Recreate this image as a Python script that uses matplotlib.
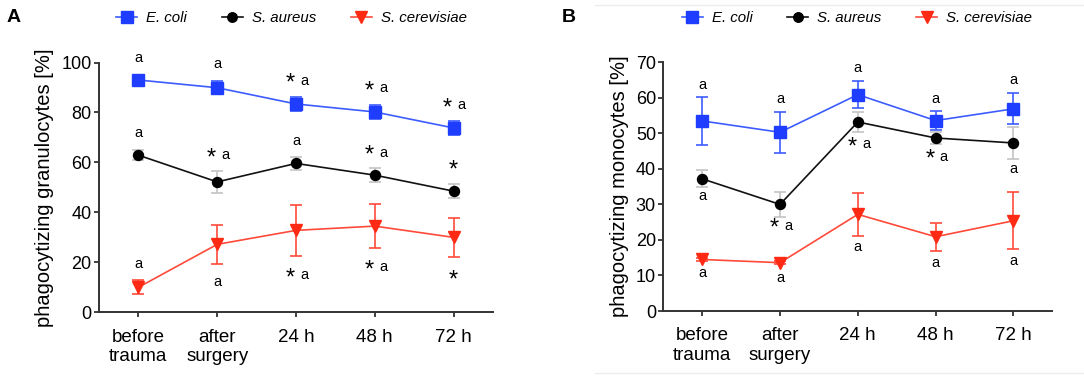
import matplotlib
matplotlib.use("Agg")
import matplotlib.pyplot as plt
from matplotlib.lines import Line2D
import numpy as np

plt.rcParams['font.family'] = ['Liberation Sans', 'DejaVu Sans']

categories = ["before\ntrauma", "after\nsurgery", "24 h", "48 h", "72 h"]
series_names = ["E. coli", "S. aureus", "S. cerevisiae"]

# Panel A: phagocytizing granulocytes [%]
a_ecoli = [93.0, 89.9, 83.4, 80.2, 73.8]
a_ecoli_err = [1.2, 2.7, 2.7, 2.7, 2.9]
a_saureus = [62.9, 52.2, 59.6, 54.9, 48.5]
a_saureus_err = [2.1, 4.3, 2.7, 2.7, 2.8]
a_scer = [10.0, 27.2, 32.8, 34.5, 30.0]
a_scer_err = [2.8, 7.8, 10.1, 8.8, 7.9]

# Panel B: phagocytizing monocytes [%]
b_ecoli = [53.5, 50.3, 60.9, 53.6, 56.9]
b_ecoli_err = [6.8, 5.7, 3.75, 2.6, 4.4]
b_saureus = [37.2, 30.0, 53.2, 48.7, 47.3]
b_saureus_err = [2.4, 3.5, 2.9, 1.8, 4.5]
b_scer = [14.5, 13.6, 27.2, 20.9, 25.4]
b_scer_err = [0.5, 0.5, 6.1, 3.9, 8.0]

# annotations: (category index, y, star?, letter?)
a_annots = [
    (0, 101.7, False, True), (1, 99.2, False, True), (2, 92.6, True, True),
    (3, 89.6, True, True), (4, 82.9, True, True),
    (0, 71.6, False, True), (1, 62.9, True, True), (2, 68.5, False, True),
    (3, 63.8, True, True), (4, 58.0, True, False),
    (0, 19.2, False, True), (1, 12.3, False, True), (2, 14.9, True, True),
    (3, 18.0, True, True), (4, 13.8, True, False),
]
b_annots = [
    (0, 63.6, False, True), (1, 59.6, False, True), (2, 68.3, False, True),
    (3, 59.8, False, True), (4, 64.9, False, True),
    (0, 32.5, False, True), (1, 24.0, True, True), (2, 46.9, True, True),
    (3, 43.4, True, True), (4, 40.0, False, True),
    (0, 10.6, False, True), (1, 9.2, False, True), (2, 18.1, False, True),
    (3, 13.4, False, True), (4, 14.2, False, True),
]

blue = '#1f3dff'
blue_line = '#3d5cff'
red = '#ff2a14'
red_line = '#ff4a3a'
grey_err = '#c4c4c4'
axis_col = '#333333'

styles = [
    dict(color=blue_line, mfc=blue, mec=blue, marker='s', ms=8.5, ecolor=blue_line),
    dict(color='#111111', mfc='black', mec='black', marker='o', ms=7.2, ecolor=grey_err),
    dict(color=red_line, mfc=red, mec=red, marker='v', ms=8.5, ecolor=red_line),
]

fig = plt.figure(figsize=(10.84, 3.77), dpi=100)
axA = fig.add_axes([99/1084, 1-312.3/377, (493-99)/1084, (312.3-62.5)/377])
axB = fig.add_axes([663.3/1084, 1-311/377, (1052.3-663.3)/1084, (311-62.3)/377])

def draw(ax, data, errs, ylim, yticks, ylabel, annots):
    x = np.arange(len(categories))
    for vals, err, st in zip(data, errs, styles):
        ax.errorbar(x, vals, yerr=err, color=st['color'], ecolor=st['ecolor'],
                    marker=st['marker'], ms=st['ms'], mfc=st['mfc'], mec=st['mec'],
                    lw=1.2, elinewidth=1.2, capsize=4, capthick=1.2, zorder=3)
    ax.set_xlim(-0.5, 4.5)
    ax.set_ylim(*ylim)
    ax.set_yticks(yticks)
    ax.set_xticks(x)
    ax.set_xticklabels(categories, fontsize=13.5, linespacing=1.2)
    ax.tick_params(axis='y', labelsize=13, length=3.8, width=1.3, color=axis_col, pad=1.5)
    ax.tick_params(axis='x', length=3.8, width=1.3, color=axis_col, pad=8)
    for s in ['top', 'right']:
        ax.spines[s].set_visible(False)
    for s in ['left', 'bottom']:
        ax.spines[s].set_linewidth(1.4)
        ax.spines[s].set_color(axis_col)
    ax.set_ylabel(ylabel, fontsize=14.5, labelpad=5)
    for (i, y, star, letter) in annots:
        if star and letter:
            ax.text(i - 0.075, y - (ylim[1]-ylim[0])*0.012, '*', ha='center', va='center',
                    fontsize=17, clip_on=False)
            ax.text(i + 0.105, y, 'a', ha='center', va='center', fontsize=10.5, clip_on=False)
        elif star:
            ax.text(i, y - (ylim[1]-ylim[0])*0.012, '*', ha='center', va='center',
                    fontsize=17, clip_on=False)
        else:
            ax.text(i, y, 'a', ha='center', va='center', fontsize=10.5, clip_on=False)

draw(axA, [a_ecoli, a_saureus, a_scer], [a_ecoli_err, a_saureus_err, a_scer_err],
     (0, 100), [0, 20, 40, 60, 80, 100], 'phagocytizing granulocytes [%]', a_annots)
draw(axB, [b_ecoli, b_saureus, b_scer], [b_ecoli_err, b_saureus_err, b_scer_err],
     (0, 70), [0, 10, 20, 30, 40, 50, 60, 70], 'phagocytizing monocytes [%]', b_annots)

handles = [Line2D([], [], color=st['color'], marker=st['marker'], ms=st['ms'] * 0.95,
                  mfc=st['mfc'], mec=st['mec'], lw=1.2) for st in styles]

for cx in (291.5/1084, 857/1084):
    leg = fig.legend(handles, series_names, ncol=3, loc='center',
                     bbox_to_anchor=(cx, 1-18/377), frameon=False,
                     handlelength=1.4, handletextpad=0.6, columnspacing=2.3,
                     prop=dict(size=10.8, style='italic'))

fig.text(14/1084, 1-18/377, 'A', fontsize=14, fontweight='bold', ha='center', va='center')
fig.text(569/1084, 1-18/377, 'B', fontsize=14, fontweight='bold', ha='center', va='center')

# faint frame lines around panel B
fig.add_artist(Line2D([595/1084, 1], [1-4.5/377, 1-4.5/377], color='#ececec', lw=1,
                      transform=fig.transFigure))
fig.add_artist(Line2D([595/1084, 1], [1-372.5/377, 1-372.5/377], color='#ececec', lw=1,
                      transform=fig.transFigure))

fig.savefig('out.png', dpi=100)
